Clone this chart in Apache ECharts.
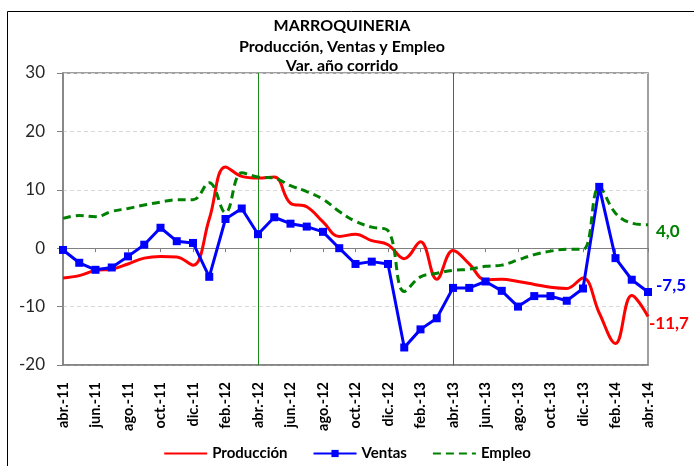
<!DOCTYPE html>
<html><head><meta charset="utf-8">
<script src="https://cdn.jsdelivr.net/npm/echarts@6/dist/echarts.min.js"></script>
<style>html,body{margin:0;padding:0;background:#fff}#c{width:694px;height:466px}</style>
</head><body><div id="c"></div>
<script>
const categories = ['abr.-11','may.-11','jun.-11','jul.-11','ago.-11','sep.-11','oct.-11','nov.-11','dic.-11',
  'ene.-12','feb.-12','mar.-12','abr.-12','may.-12','jun.-12','jul.-12','ago.-12','sep.-12','oct.-12','nov.-12','dic.-12',
  'ene.-13','feb.-13','mar.-13','abr.-13','may.-13','jun.-13','jul.-13','ago.-13','sep.-13','oct.-13','nov.-13','dic.-13',
  'ene.-14','feb.-14','mar.-14','abr.-14'];
const produccion = [-5.1,-4.7,-3.8,-3.6,-2.7,-1.7,-1.4,-1.5,-2.9,
  5.0,13.9,12.3,12.0,12.2,7.7,7.1,4.5,2.0,2.4,1.3,0.6,
  -1.8,1.1,-5.3,-0.4,-2.7,-5.4,-5.3,-5.7,-6.2,-6.7,-6.9,-5.1,
  -11.1,-16.3,-8.1,-11.7];
const ventas = [-0.3,-2.5,-3.7,-3.3,-1.4,0.6,3.5,1.2,0.9,
  -4.9,5.0,6.8,2.4,5.3,4.2,3.7,2.8,0.0,-2.7,-2.3,-2.7,
  -17.0,-13.9,-12.0,-6.8,-6.8,-5.7,-7.3,-10.0,-8.2,-8.2,-9.0,-6.9,
  10.5,-1.7,-5.4,-7.5];
const empleo = [5.1,5.6,5.4,6.3,6.8,7.4,7.9,8.3,8.3,
  11.2,6.1,12.9,12.2,12.0,10.7,9.7,8.4,6.3,4.6,3.6,3.0,
  -7.4,-4.9,-4.3,-3.8,-3.6,-3.1,-2.9,-2.0,-1.1,-0.5,-0.2,-0.2,
  10.5,6.0,4.3,4.0];
const yMin = -20, yMax = 30, yStep = 10;
const markerMonths = ['abr.-12','abr.-13'];
const titleLines = ['MARROQUINERIA','Producción, Ventas y Empleo','Var. año corrido'];
const seriesNames = ['Producción','Ventas','Empleo'];

const FONT = 'Lato, "Open Sans", sans-serif';
const fmt = p => Number(p.value).toFixed(1).replace('.', ',');
const chart = echarts.init(document.getElementById('c'), null, {renderer:'canvas'});
chart.setOption({
  animation: false,
  backgroundColor: '#fff',
  textStyle: {fontFamily: FONT},
  graphic: [
    {type:'rect', shape:{x:7.5, y:11.5, width:700, height:470}, style:{fill:'none', stroke:'#000', lineWidth:1}, z:-1},
    {type:'text', x:342, y:25.5, style:{text:titleLines[0], font:'bold 16px '+FONT, fill:'#000', textAlign:'center', textVerticalAlign:'middle'}},
    {type:'text', x:342, y:46.5, style:{text:titleLines[1], font:'bold 16px '+FONT, fill:'#000', textAlign:'center', textVerticalAlign:'middle'}},
    {type:'text', x:342, y:65.5, style:{text:titleLines[2], font:'bold 16px '+FONT, fill:'#000', textAlign:'center', textVerticalAlign:'middle'}}
  ],
  grid: {left:63, right:46, top:73, bottom:101, show:true, borderColor:'#808080', borderWidth:1.5, containLabel:false},
  legend: {
    bottom: 0, left: 'center',
    itemWidth: 43, itemHeight: 9, itemGap: 25,
    textStyle: {fontFamily: FONT, fontWeight:'bold', fontSize:15, color:'#000'},
    data: [
      {name: seriesNames[0], itemStyle:{opacity:0}},
      {name: seriesNames[1]},
      {name: seriesNames[2], itemStyle:{opacity:0}}
    ]
  },
  xAxis: [
    {type:'category', data:categories, boundaryGap:false, position:'bottom',
     axisLine:{show:true, onZero:false, lineStyle:{color:'#808080', width:1.5}},
     axisTick:{show:false},
     axisLabel:{rotate:90, interval:1, margin:17, fontFamily:FONT, fontWeight:'bold', fontSize:14.5, color:'#000'},
     splitLine:{show:false}},
    {type:'category', data:categories, boundaryGap:false, position:'top',
     axisLine:{show:true, onZero:true, lineStyle:{color:'#808080', width:1.2}},
     axisTick:{show:true, inside:true, interval:1, length:4, lineStyle:{color:'#808080'}},
     axisLabel:{show:false}, splitLine:{show:false}}
  ],
  yAxis: {type:'value', min:yMin, max:yMax, interval:yStep,
    axisLine:{show:true, lineStyle:{color:'#808080', width:1.5}},
    axisTick:{show:true, length:6, lineStyle:{color:'#808080'}},
    axisLabel:{margin:18, fontFamily:FONT, fontSize:17, color:'#262626'},
    splitLine:{show:true, lineStyle:{color:'#d9d9d9', type:[4,3], width:1}}},
  series: [
    {name:seriesNames[0], type:'line', data:produccion, smooth:0.4, symbol:'none',
     lineStyle:{color:'#ff0000', width:3}, itemStyle:{color:'#ff0000'},
     endLabel:{show:true, formatter:fmt, distance:1, offset:[0,7], color:'#ff0000', fontFamily:FONT, fontWeight:'bold', fontSize:17},
     markLine:{silent:true, symbol:'none', label:{show:false}, z:1,
       lineStyle:{color:'#1a8a1a', width:1, type:'solid'},
       data: markerMonths.map(m => ({xAxis:m}))}},
    {name:seriesNames[1], type:'line', data:ventas, smooth:false, symbol:'rect', symbolSize:8, showAllSymbol:true,
     lineStyle:{color:'#0000ff', width:3}, itemStyle:{color:'#0000ff'},
     endLabel:{show:true, formatter:fmt, distance:8, offset:[0,-6], color:'#0000ff', fontFamily:FONT, fontWeight:'bold', fontSize:17}},
    {name:seriesNames[2], type:'line', data:empleo, smooth:0.4, symbol:'none',
     lineStyle:{color:'#008000', width:3, type:[8,5]}, itemStyle:{color:'#008000'},
     endLabel:{show:true, formatter:fmt, distance:8, offset:[0,7], color:'#008000', fontFamily:FONT, fontWeight:'bold', fontSize:17}}
  ]
});
</script></body></html>
